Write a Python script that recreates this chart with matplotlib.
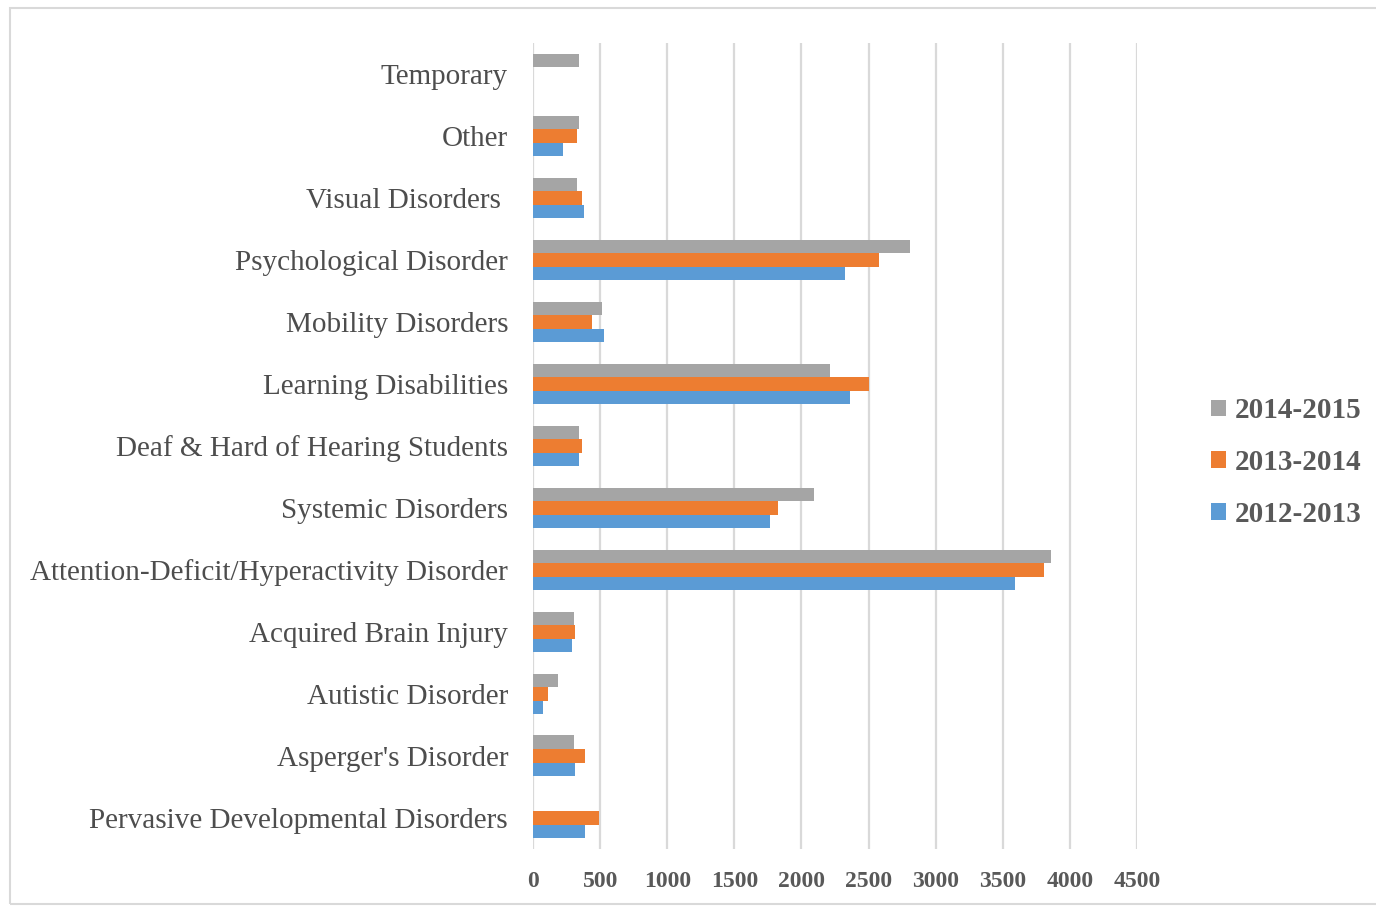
import numpy as np
import matplotlib
matplotlib.use("Agg")
from matplotlib import pyplot as plt
from matplotlib.patches import Rectangle

# categories from bottom to top
categories = ["Pervasive Developmental Disorders", "Asperger's Disorder", "Autistic Disorder",
              "Acquired Brain Injury", "Attention-Deficit/Hyperactivity Disorder", "Systemic Disorders",
              "Deaf & Hard of Hearing Students", "Learning Disabilities", "Mobility Disorders",
              "Psychological Disorder", "Visual Disorders ", "Other", "Temporary"]

y2012_2013 = [384, 310, 76, 291, 3588, 1765, 345, 2363, 530, 2326, 383, 222, 0]
y2013_2014 = [490, 384, 111, 310, 3807, 1824, 366, 2505, 440, 2580, 366, 329, 0]
y2014_2015 = [0, 308, 185, 308, 3856, 2094, 345, 2216, 510, 2811, 329, 346, 346]

series_names = ["2012-2013", "2013-2014", "2014-2015"]
colors = ["#5b9bd5", "#ed7d31", "#a5a5a5"]
xticks = [0, 500, 1000, 1500, 2000, 2500, 3000, 3500, 4000, 4500]

plt.rcParams['font.family'] = ['Liberation Serif', 'DejaVu Serif']

fig = plt.figure(figsize=(13.76, 9.07), dpi=100)
ax = fig.add_axes([0.3874, 0.064, 0.8263 - 0.3874, 0.9526 - 0.064])

y = np.arange(len(categories))
h = 0.22
for i, (vals, name, c) in enumerate(zip([y2012_2013, y2013_2014, y2014_2015], series_names, colors)):
    ax.barh(y + (i - 1) * h, vals, height=h, color=c, label=name, zorder=3)

ax.set_xlim(0, 4500)
ax.set_ylim(-0.5, len(categories) - 0.5)
ax.set_xticks(xticks)
ax.set_xticklabels([str(t) for t in xticks], fontsize=17, fontweight='bold', color='#595959')
ax.set_yticks(y)
ax.set_yticklabels(categories, fontsize=21, color='#4d4d4d')
ax.tick_params(axis='both', length=0)
ax.tick_params(axis='y', pad=18)
ax.tick_params(axis='x', pad=16)
ax.grid(axis='x', color='#d9d9d9', linewidth=1.6, zorder=0)
for s in ax.spines.values():
    s.set_visible(False)

handles, labels = ax.get_legend_handles_labels()
leg = fig.legend(handles[::-1], labels[::-1], loc='center left', bbox_to_anchor=(0.861, 0.49),
                 frameon=False, handlelength=0.5, handleheight=0.5, handletextpad=0.3,
                 labelspacing=0.85, prop={'size': 21, 'weight': 'bold'})
for t in leg.get_texts():
    t.set_color('#595959')

fig.patches.append(Rectangle((10 / 1376, 0.003), 1.0, 0.988, transform=fig.transFigure,
                             fill=False, edgecolor='#d9d9d9', linewidth=1.5))

fig.savefig("out.png", dpi=100)
